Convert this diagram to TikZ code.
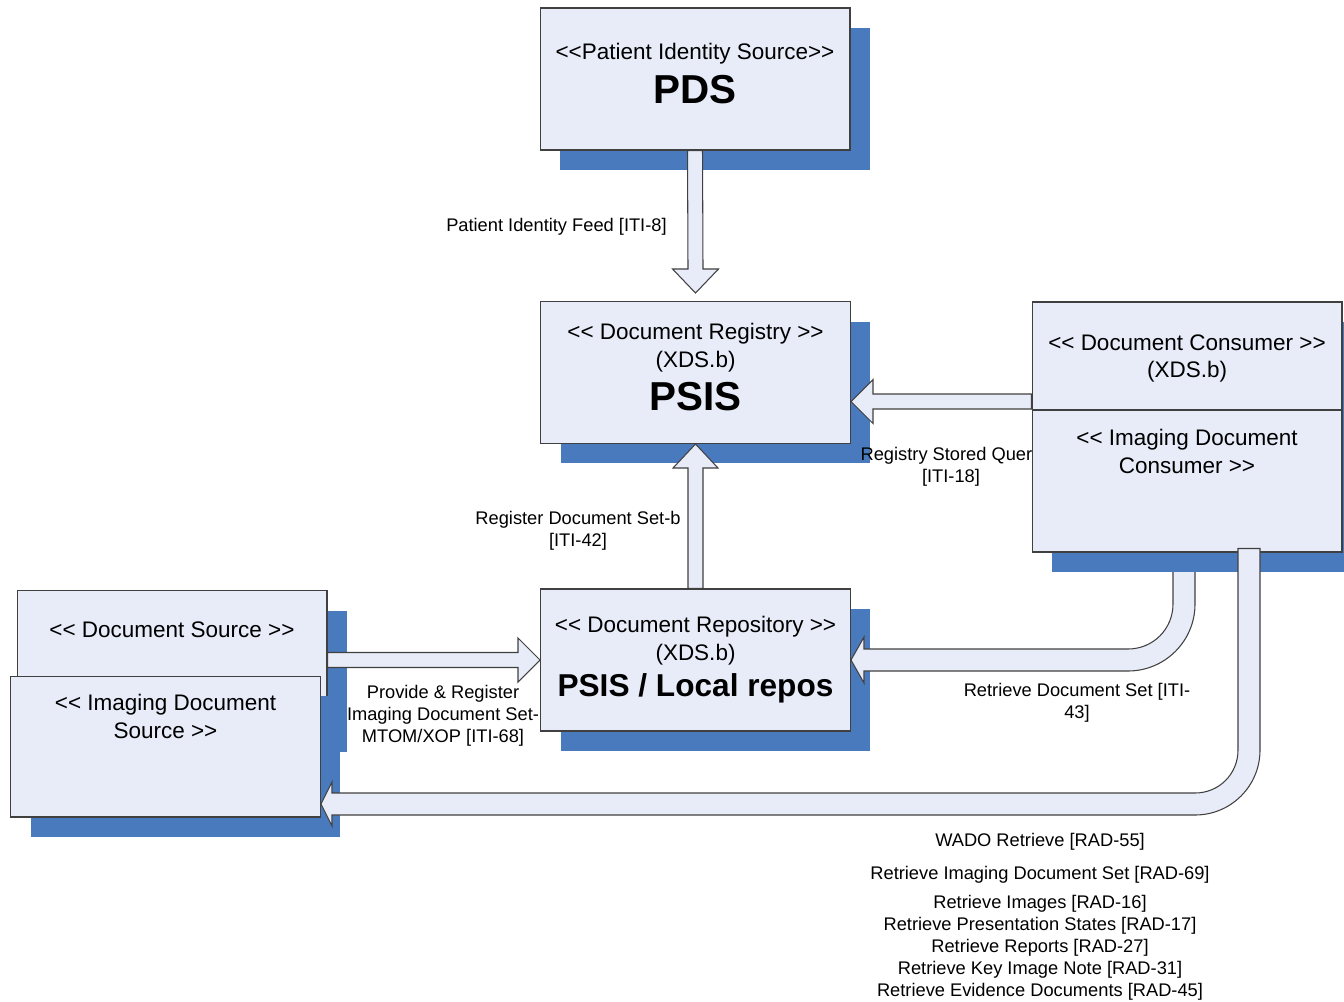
\documentclass[tikz,border=0pt]{standalone}
\usepackage{fontspec}
\setmainfont{Liberation Sans}[Ligatures=TeXOff]
\usetikzlibrary{calc,shadows}
\definecolor{boxfill}{RGB}{232,236,248}
\definecolor{shadowblue}{RGB}{74,122,190}
\definecolor{boxline}{RGB}{64,64,64}

\begin{document}
\begin{tikzpicture}[x=0.02cm, y=-0.02cm,
  box/.style={draw=boxline, fill=boxfill, line width=0.6pt, inner sep=0pt, minimum width=6.2cm, minimum height=2.84cm},
  shadowed/.style={drop shadow={shadow xshift=0.4cm, shadow yshift=-0.4cm, fill=shadowblue, opacity=1}},
  stereo/.style={inner sep=0pt, align=center, anchor=north, font=\fontsize{12.8}{15.9}\selectfont},
  bigname/.style={inner sep=0pt, anchor=base, font=\bfseries\fontsize{23}{26}\selectfont},
  lbl/.style={inner sep=0pt, align=center, anchor=north, font=\fontsize{10.4}{12.5}\selectfont},
  blockarrow/.style={draw=boxline, fill=boxfill, line width=0.6pt, line join=miter}]
  \useasboundingbox (0,0) rectangle (1344,1001);
  \clip (0,0) rectangle (1344,1001);

  % actors
  \node[box, shadowed] (pds) at (695,79) {};
  \node[stereo] (pds-st) at ($(pds.north)+(0,35.5)$) {<<Patient Identity Source>>};
  \node[bigname] (pds-nm) at ($(pds.north)+(0,96.5)$) {PDS};

  \node[box, shadowed] (psis) at (695.5,372.5) {};
  \node[stereo] (psis-st) at ($(psis.north)+(0,21.5)$) {<< Document Registry >>\\(XDS.b)};
  \node[bigname] (psis-nm) at ($(psis.north)+(0,109.5)$) {PSIS};

  \node[box, shadowed] (repo) at (695.5,660) {};
  \node[stereo] (repo-st) at ($(repo.north)+(0,27.5)$) {<< Document Repository >>\\(XDS.b)};
  \node[bigname, font=\bfseries\fontsize{18}{21}\selectfont] (repo-nm) at ($(repo.north)+(0,108.4)$) {PSIS / Local repos};

  \node[box, shadowed] (dsrc) at (172,661.5) {};
  \node[stereo] (dsrc-st) at ($(dsrc.north)+(0,31.5)$) {<< Document Source >>};
  \node[box, shadowed, minimum height=2.82cm] (imgsrc) at (165.5,746.5) {};
  \node[stereo] (imgsrc-st) at ($(imgsrc.north)+(0,18.5)$) {<< Imaging Document\\Source >>};

  % transactions
  \draw[blockarrow] ($(pds.south)+(-7.5,0)$) -- ($(psis.north)+(-7.5,-32)$) -- ($(psis.north)+(-23,-32)$)
    -- ($(psis.north)+(0,-8)$) -- ($(psis.north)+(23,-32)$) -- ($(psis.north)+(7.5,-32)$) -- ($(pds.south)+(7.5,0)$) -- cycle;
  \draw[blockarrow] ($(repo.north)+(-7.5,0)$) -- ($(psis.south)+(-7.5,24)$) -- ($(psis.south)+(-22.5,24)$)
    -- (psis.south) -- ($(psis.south)+(22.5,24)$) -- ($(psis.south)+(7.5,24)$) -- ($(repo.north)+(7.5,0)$) -- cycle;
  \draw[blockarrow] ($(repo.west -| dsrc.east)+(0,-7.5)$) -- ($(repo.west)+(-22,-7.5)$) -- ($(repo.west)+(-22,-22)$)
    -- (repo.west) -- ($(repo.west)+(-22,22)$) -- ($(repo.west)+(-22,7.5)$) -- ($(repo.west -| dsrc.east)+(0,7.5)$) -- cycle;

  \coordinate (rdbend) at (1128,604);
  \draw[blockarrow] ($(rdbend)+(45,-52)$) -- ($(rdbend)+(45,0)$)
    .. controls ($(rdbend)+(45,25)$) and ($(rdbend)+(25,45)$) .. ($(rdbend)+(0,45)$)
    -- ($(repo.east)+(13,-11)$) -- ($(repo.east)+(13,-23)$) -- (repo.east) -- ($(repo.east)+(13,23)$) -- ($(repo.east)+(13,11)$)
    -- ($(rdbend)+(0,67)$) .. controls ($(rdbend)+(37,67)$) and ($(rdbend)+(67,37)$) .. ($(rdbend)+(67,0)$)
    -- ($(rdbend)+(67,-52)$) -- cycle;

  \node[lbl, anchor=base east] (feed-lbl) at ($(pds.south)+(-28,80.5)$) {Patient Identity Feed [ITI-8]};
  \node[lbl] (reg-lbl) at ($(repo.north)+(-117.5,-78)$) {Register Document Set-b\\{}[ITI-42]};
  \node[lbl] (query-lbl) at ($(psis.east)+(100,74.5)$) {Registry Stored Query\\{}[ITI-18]};
  \node[lbl] (prov-lbl) at ($(repo.west)+(-97,25)$) {Provide \& Register\\Imaging Document Set-\\MTOM/XOP [ITI-68]};
  \node[lbl] (rds-lbl) at ($(repo.east)+(226,23)$) {Retrieve Document Set [ITI-\\43]};

  % consumer
  \node[box, shadowed, minimum height=2.16cm] (dcons) at (1187,356) {};
  \node[stereo] (dcons-st) at ($(dcons.north)+(0,32.5)$) {<< Document Consumer >>\\(XDS.b)};
  \node[box, shadowed] (icons) at (1187,481) {};
  \node[stereo] (icons-st) at ($(icons.north)+(0,19.5)$) {<< Imaging Document\\Consumer >>};

  \coordinate (qtip) at ($(psis.east)+(0,29)$);
  \draw[blockarrow] ($(qtip -| dcons.west)+(0,-7.5)$) -- ($(qtip)+(22,-7.5)$) -- ($(qtip)+(22,-22)$)
    -- (qtip) -- ($(qtip)+(22,22)$) -- ($(qtip)+(22,7.5)$) -- ($(qtip -| dcons.west)+(0,7.5)$) -- cycle;

  \coordinate (wbend) at (1195,750);
  \coordinate (wtip) at ($(imgsrc.east)+(0,57.5)$);
  \draw[blockarrow] ($(wbend |- icons.south)+(43,-4)$) -- ($(wbend)+(43,0)$)
    .. controls ($(wbend)+(43,24)$) and ($(wbend)+(24,43)$) .. ($(wbend)+(0,43)$)
    -- ($(wtip)+(11,-11)$) -- ($(wtip)+(11,-22)$) -- (wtip) -- ($(wtip)+(11,22)$) -- ($(wtip)+(11,11)$)
    -- ($(wbend)+(0,65)$) .. controls ($(wbend)+(36,65)$) and ($(wbend)+(65,36)$) .. ($(wbend)+(65,0)$)
    -- ($(wbend |- icons.south)+(65,-4)$) -- cycle;

  \node[lbl] (wado-lbl) at (1040,833) {WADO Retrieve [RAD-55]\\[6.2pt]
    Retrieve Imaging Document Set [RAD-69]\\[4pt]
    Retrieve Images [RAD-16]\\
    Retrieve Presentation States [RAD-17]\\
    Retrieve Reports [RAD-27]\\
    Retrieve Key Image Note [RAD-31]\\
    Retrieve Evidence Documents [RAD-45]};
\end{tikzpicture}
\end{document}
